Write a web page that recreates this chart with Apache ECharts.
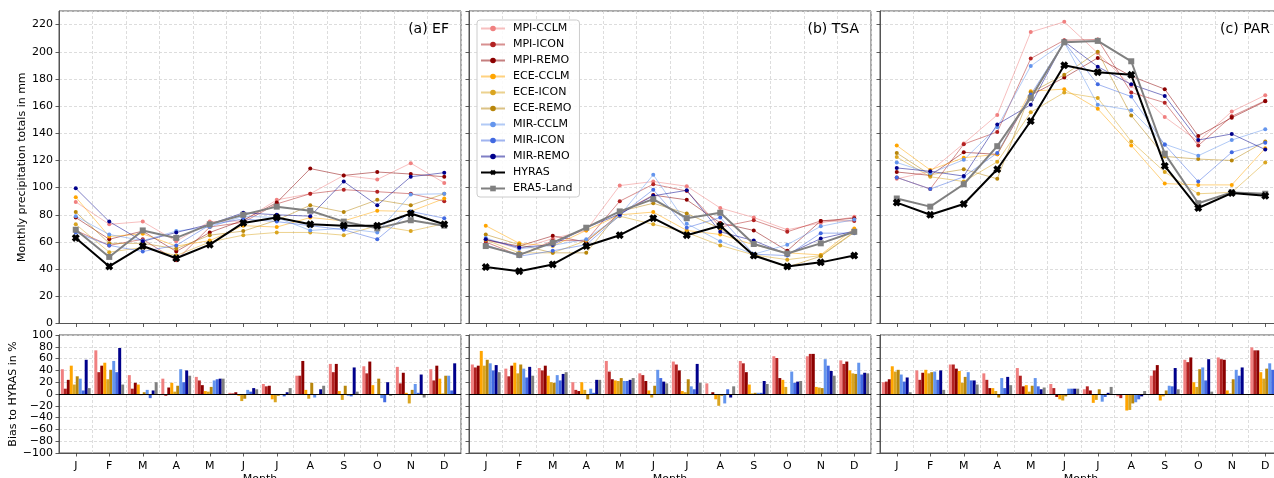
<!DOCTYPE html>
<html>
<head>
<meta charset="utf-8">
<script src="https://cdn.jsdelivr.net/npm/echarts@6/dist/echarts.min.js"></script>
<style>html,body{margin:0;padding:0;background:#fff}#c{width:1274px;height:478px}</style>
</head>
<body>
<div id="c"></div>
<script>
// ---------- categories / ticks ----------
const months = ['Jan','Feb','Mar','Apr','May','Jun','Jul','Aug','Sep','Oct','Nov','Dec'];
const monthTicks = ['J','F','M','A','M','J','J','A','S','O','N','D'];
const modelNames = ['MPI-CCLM','MPI-ICON','MPI-REMO','ECE-CCLM','ECE-ICON','ECE-REMO','MIR-CCLM','MIR-ICON','MIR-REMO'];
const regionTitles = ['(a) EF','(b) TSA','(c) PAR'];

// ---------- (a) EF : monthly precipitation totals (mm) ----------
const EF_MPI_CCLM = [89.5, 73, 75, 60.5, 75, 75.5, 91, 95.5, 109, 106, 118, 103.5];
const EF_MPI_ICON = [68.5, 57.5, 62, 46.5, 71, 74.5, 88, 95.5, 98.5, 97, 95.5, 90];
const EF_MPI_REMO = [78, 62, 68, 53, 67, 76, 89, 114, 109, 111.5, 110, 108];
const EF_ECE_CCLM = [93, 64, 66, 57, 61, 72, 71, 78, 75.5, 83, 82.5, 92];
const EF_ECE_ICON = [73, 52.5, 56, 50, 60, 65, 67, 67, 65, 72, 68, 73.5];
const EF_ECE_REMO = [82, 59, 59, 55, 65, 68, 76, 87, 82, 91, 87, 95.5];
const EF_MIR_CCLM = [79, 65.5, 61, 68, 71, 79, 78, 68.5, 70, 67, 95, 95.5];
const EF_MIR_ICON = [67, 57.5, 53, 57.5, 72.5, 77, 75, 72, 69, 62, 82.5, 77.5];
const EF_MIR_REMO = [99.5, 75, 60.5, 67, 73, 81.5, 80, 79, 104.5, 87, 108, 111];
const EF_HYRAS    = [63, 42, 57, 48, 58, 74, 78, 73, 72, 72, 81, 73];
const EF_ERA5     = [69, 49, 68.5, 63, 73, 80, 86, 83, 75, 70, 76, 72];
// (a) EF : bias to HYRAS (%)
const EFB_MPI_CCLM = [42, 74, 32, 26, 29, 2, 17, 31, 51, 47, 46, 42];
const EFB_MPI_ICON = [9, 37, 9, -3, 23, 1, 13, 31, 37, 35, 18, 23];
const EFB_MPI_REMO = [24, 48, 19, 11, 15, 3, 14, 56, 51, 55, 36, 48];
const EFB_ECE_CCLM = [48, 53, 16, 19, 5, -3, -9, 7, 5, 15, 2, 26];
const EFB_ECE_ICON = [16, 25, -2, 4, 4, -12, -14, -8, -10, 0, -16, 1];
const EFB_ECE_REMO = [30, 41, 3, 14, 12, -8, -3, 19, 14, 26, 7, 31];
const EFB_MIR_CCLM = [26, 56, 7, 42, 23, 7, 0, -6, -3, -7, 17, 31];
const EFB_MIR_ICON = [6, 37, -7, 20, 25, 4, -4, -1, -4, -14, 2, 6];
const EFB_MIR_REMO = [58, 78, 6, 40, 26, 10, 3, 8, 45, 20, 33, 52];
const EFB_ERA5     = [10, 16, 20, 31, 26, 8, 10, 14, 4, -3, -6, -1];

// ---------- (b) TSA ----------
const TSA_MPI_CCLM = [62, 55, 62.5, 68.5, 101.5, 104.5, 101, 85, 78, 69, 74, 78.5];
const TSA_MPI_ICON = [60, 50, 61, 61, 90, 102.5, 97.5, 71, 76, 67.5, 75.5, 75.5];
const TSA_MPI_REMO = [61.5, 57, 64.5, 60, 81, 94.5, 91, 74, 68.5, 53.5, 75.5, 77.5];
const TSA_ECE_CCLM = [72, 59, 57, 68.5, 80, 82, 68.5, 65.5, 58, 52, 50.5, 70];
const TSA_ECE_ICON = [61.5, 52, 52, 61, 79, 73, 67, 57.5, 50.5, 47, 50, 67.5];
const TSA_ECE_REMO = [65.5, 58, 52, 52, 82.5, 88.5, 81, 70, 51, 41.5, 49.5, 67];
const TSA_MIR_CCLM = [63, 55, 57.5, 62, 79.5, 109.5, 73.5, 60.5, 51, 58, 71.5, 76.5];
const TSA_MIR_ICON = [58, 49.5, 53.5, 58, 79.5, 98.5, 70.5, 78, 51, 50, 66.5, 66.5];
const TSA_MIR_REMO = [62, 56, 58, 70.5, 80.5, 94, 98, 67.5, 61, 51, 62.5, 68];
const TSA_HYRAS    = [41.5, 38.5, 43.5, 57, 65, 77.5, 65, 72, 50, 42, 45, 50];
const TSA_ERA5     = [57, 50.5, 59.5, 70.5, 82.5, 91.5, 77.5, 81.5, 58.5, 51.5, 59, 67.5];
const TSAB_MPI_CCLM = [50, 43, 44, 20, 56, 35, 55, 18, 56, 64, 64, 57];
const TSAB_MPI_ICON = [45, 30, 40, 7, 38, 32, 50, -1, 52, 61, 68, 51];
const TSAB_MPI_REMO = [48, 48, 48, 5, 25, 22, 40, 3, 37, 27, 68, 55];
const TSAB_ECE_CCLM = [73, 53, 31, 20, 23, 6, 5, -9, 16, 24, 12, 40];
const TSAB_ECE_ICON = [48, 35, 20, 7, 22, -6, 3, -20, 1, 12, 11, 35];
const TSAB_ECE_REMO = [58, 50, 19, -9, 27, 14, 25, -3, 2, -1, 10, 34];
const TSAB_MIR_CCLM = [52, 43, 32, 9, 22, 41, 13, -16, 2, 38, 59, 53];
const TSAB_MIR_ICON = [40, 28, 23, 2, 22, 27, 8, 8, 2, 19, 48, 33];
const TSAB_MIR_REMO = [49, 46, 34, 24, 24, 21, 51, -6, 22, 21, 39, 36];
const TSAB_ERA5     = [37, 31, 37, 24, 27, 18, 19, 13, 17, 22, 31, 35];

// ---------- (c) PAR ----------
const PAR_MPI_CCLM = [106.5, 112, 132.5, 153.5, 214.5, 222, 199, 175, 152, 134, 156, 168];
const PAR_MPI_ICON = [107.5, 99, 132, 141, 195, 208.5, 209, 170, 162.5, 131, 152.5, 164];
const PAR_MPI_REMO = [111.5, 109, 126, 124.5, 168, 181, 195.5, 182, 172.5, 138, 151.5, 163.5];
const PAR_ECE_CCLM = [131, 113, 122, 124.5, 171, 172.5, 158, 131, 103, 102, 102, 129];
const PAR_ECE_ICON = [122.5, 108, 104.5, 119, 155.5, 170, 166, 134, 111.5, 95.5, 96.5, 118.5];
const PAR_ECE_REMO = [125.5, 109.5, 113.5, 106.5, 170, 183, 200, 153, 123, 121, 120, 134];
const PAR_MIR_CCLM = [118.5, 110.5, 120.5, 144.5, 189.5, 207, 161, 157, 132, 123.5, 135, 143];
const PAR_MIR_ICON = [107.5, 99, 108, 125.5, 168.5, 207, 176, 167, 131.5, 104.5, 126, 133];
const PAR_MIR_REMO = [114.5, 112, 108.5, 146.5, 161, 207.5, 189, 176, 167.5, 135, 139.5, 128];
const PAR_HYRAS    = [89, 80, 88, 113.5, 149, 190, 185, 183, 116, 85, 96, 94];
const PAR_ERA5     = [92, 86, 102.5, 130.5, 166, 207, 208, 193, 125, 88.5, 96.5, 95.5];
const PARB_MPI_CCLM = [20, 40, 50, 35, 44, 17, 8, -4, 31, 58, 62, 79];
const PARB_MPI_ICON = [21, 24, 50, 24, 31, 10, 13, -7, 40, 54, 59, 74];
const PARB_MPI_REMO = [25, 36, 43, 10, 13, -5, 6, -1, 49, 62, 58, 74];
const PARB_ECE_CCLM = [47, 41, 39, 10, 15, -9, -15, -28, -11, 20, 6, 37];
const PARB_ECE_ICON = [38, 35, 19, 5, 4, -11, -10, -27, -4, 12, 1, 26];
const PARB_ECE_REMO = [41, 37, 29, -6, 14, -4, 8, -16, 6, 42, 25, 43];
const PARB_MIR_CCLM = [33, 38, 37, 27, 27, 9, -13, -14, 14, 45, 41, 52];
const PARB_MIR_ICON = [21, 24, 23, 10, 13, 9, -5, -9, 13, 23, 31, 41];
const PARB_MIR_REMO = [28, 40, 23, 29, 8, 9, 2, -4, 44, 59, 45, 36];
const PARB_ERA5     = [3, 7, 16, 15, 11, 9, 12, 5, 8, 4, 0, 2];

// ---------- assemble ----------
const lineSets = [
  [EF_MPI_CCLM, EF_MPI_ICON, EF_MPI_REMO, EF_ECE_CCLM, EF_ECE_ICON, EF_ECE_REMO, EF_MIR_CCLM, EF_MIR_ICON, EF_MIR_REMO],
  [TSA_MPI_CCLM, TSA_MPI_ICON, TSA_MPI_REMO, TSA_ECE_CCLM, TSA_ECE_ICON, TSA_ECE_REMO, TSA_MIR_CCLM, TSA_MIR_ICON, TSA_MIR_REMO],
  [PAR_MPI_CCLM, PAR_MPI_ICON, PAR_MPI_REMO, PAR_ECE_CCLM, PAR_ECE_ICON, PAR_ECE_REMO, PAR_MIR_CCLM, PAR_MIR_ICON, PAR_MIR_REMO]
];
const hyrasSets = [EF_HYRAS, TSA_HYRAS, PAR_HYRAS];
const era5Sets = [EF_ERA5, TSA_ERA5, PAR_ERA5];
const biasSets = [
  [EFB_MPI_CCLM, EFB_MPI_ICON, EFB_MPI_REMO, EFB_ECE_CCLM, EFB_ECE_ICON, EFB_ECE_REMO, EFB_MIR_CCLM, EFB_MIR_ICON, EFB_MIR_REMO, EFB_ERA5],
  [TSAB_MPI_CCLM, TSAB_MPI_ICON, TSAB_MPI_REMO, TSAB_ECE_CCLM, TSAB_ECE_ICON, TSAB_ECE_REMO, TSAB_MIR_CCLM, TSAB_MIR_ICON, TSAB_MIR_REMO, TSAB_ERA5],
  [PARB_MPI_CCLM, PARB_MPI_ICON, PARB_MPI_REMO, PARB_ECE_CCLM, PARB_ECE_ICON, PARB_ECE_REMO, PARB_MIR_CCLM, PARB_MIR_ICON, PARB_MIR_REMO, PARB_ERA5]
];

const modelColors = ['#F08080','#B22222','#8B0000','#FFA500','#DAA520','#B8860B','#6495ED','#4169E1','#00008B'];
const era5Color = '#808080';
const FONT = 'DejaVu Sans';
const lefts = [59, 469, 880];
const PW = 402;
const xSym = 'path://M0,3 L3,0 L5,2 L7,0 L10,3 L8,5 L10,7 L7,10 L5,8 L3,10 L0,7 L2,5 Z';

const grids = [], xAxes = [], yAxes = [], series = [], titles = [];
const split = {show: true, lineStyle: {color: '#d4d4d4', type: [3, 2], width: 0.8}};
const tick = {show: true, length: 3.5, lineStyle: {color: '#333', width: 0.8}};
const aline = {show: true, onZero: false, lineStyle: {color: '#555', width: 1}};
const minus = v => (v < 0 ? '\u2212' + Math.abs(v) : String(v));

for (let r = 0; r < 3; r++) {
  grids.push({left: lefts[r], width: PW, top: 11, height: 312.5, show: true, borderColor: '#555', borderWidth: 1,
    backgroundColor: 'transparent', containLabel: false, outerBoundsMode: 'none'});
  grids.push({left: lefts[r], width: PW, top: 335, height: 118, show: true, borderColor: '#555', borderWidth: 1,
    backgroundColor: 'transparent', containLabel: false, outerBoundsMode: 'none'});
  xAxes.push({type: 'category', gridIndex: 2 * r, data: months, boundaryGap: true,
    axisLine: aline, axisTick: Object.assign({alignWithLabel: true}, tick), axisLabel: {show: false}, splitLine: split});
  xAxes.push({type: 'category', gridIndex: 2 * r + 1, data: months, boundaryGap: true,
    axisLine: aline, axisTick: Object.assign({alignWithLabel: true}, tick),
    axisLabel: {show: true, margin: 8, fontSize: 11, color: '#000', fontFamily: FONT, formatter: (v, i) => monthTicks[i]},
    splitLine: split, name: 'Month', nameLocation: 'middle', nameGap: 21,
    nameTextStyle: {fontSize: 11, color: '#000', fontFamily: FONT}});
  yAxes.push({type: 'value', gridIndex: 2 * r, min: 0, max: 230, interval: 20,
    axisLine: aline, axisTick: tick, splitLine: split,
    axisLabel: {show: r === 0, showMaxLabel: false, margin: 6, fontSize: 11, color: '#000', fontFamily: FONT},
    name: r === 0 ? 'Monthly precipitation totals in mm' : '', nameLocation: 'middle', nameGap: 30,
    nameTextStyle: {fontSize: 11, color: '#000', fontFamily: FONT}});
  yAxes.push({type: 'value', gridIndex: 2 * r + 1, min: -100, max: 100, interval: 20,
    axisLine: aline, axisTick: tick, splitLine: split,
    axisLabel: {show: r === 0, margin: 6, fontSize: 11, color: '#000', fontFamily: FONT, formatter: minus},
    name: r === 0 ? 'Bias to HYRAS in %' : '', nameLocation: 'middle', nameGap: 38,
    nameTextStyle: {fontSize: 11, color: '#000', fontFamily: FONT}});
  titles.push({text: regionTitles[r], right: 1274 - (lefts[r] + PW - 12), top: 22, padding: 0,
    textStyle: {fontSize: 14, fontWeight: 'normal', color: '#000', fontFamily: FONT}});
}

// line series first (legend icons)
for (let r = 0; r < 3; r++) {
  for (let m = 0; m < 9; m++) {
    series.push({type: 'line', name: modelNames[m], xAxisIndex: 2 * r, yAxisIndex: 2 * r,
      data: lineSets[r][m], symbol: 'circle', symbolSize: 4, z: 2,
      lineStyle: {width: 1, color: modelColors[m], opacity: 0.5},
      itemStyle: {color: modelColors[m]}});
  }
  series.push({type: 'line', name: 'HYRAS', xAxisIndex: 2 * r, yAxisIndex: 2 * r,
    data: hyrasSets[r], symbol: xSym, symbolSize: 8, z: 4,
    lineStyle: {width: 2, color: '#000'}, itemStyle: {color: '#000'}});
  series.push({type: 'line', name: 'ERA5-Land', xAxisIndex: 2 * r, yAxisIndex: 2 * r,
    data: era5Sets[r], symbol: 'rect', symbolSize: 6, z: 3,
    lineStyle: {width: 2, color: era5Color}, itemStyle: {color: era5Color}});
}
for (let r = 0; r < 3; r++) {
  for (let m = 0; m < 10; m++) {
    const s = {type: 'bar', name: m < 9 ? modelNames[m] : 'ERA5-Land', xAxisIndex: 2 * r + 1, yAxisIndex: 2 * r + 1,
      data: biasSets[r][m], barGap: '0%', barCategoryGap: '11%',
      itemStyle: {color: m < 9 ? modelColors[m] : era5Color}};
    if (m === 9) {
      s.markLine = {silent: true, symbol: 'none', label: {show: false},
        lineStyle: {color: '#000', width: 1, type: 'solid'}, data: [{yAxis: 0}]};
    }
    series.push(s);
  }
}

const chart = echarts.init(document.getElementById('c'), null, {renderer: 'canvas'});
chart.setOption({
  animation: false,
  backgroundColor: '#fff',
  textStyle: {fontFamily: FONT},
  title: titles,
  grid: grids,
  xAxis: xAxes,
  yAxis: yAxes,
  legend: {
    data: modelNames.concat(['HYRAS', 'ERA5-Land']),
    orient: 'vertical', left: 477, top: 20,
    padding: [3, 7, 3, 3], itemGap: 5, itemWidth: 24, itemHeight: 7,
    backgroundColor: 'rgba(255,255,255,0.85)', borderColor: '#ccc', borderWidth: 1, borderRadius: 3,
    textStyle: {fontSize: 11, color: '#000', fontFamily: FONT, padding: [0, 0, 0, 3]},
    selectedMode: false
  },
  series: series
});
</script>
</body>
</html>
